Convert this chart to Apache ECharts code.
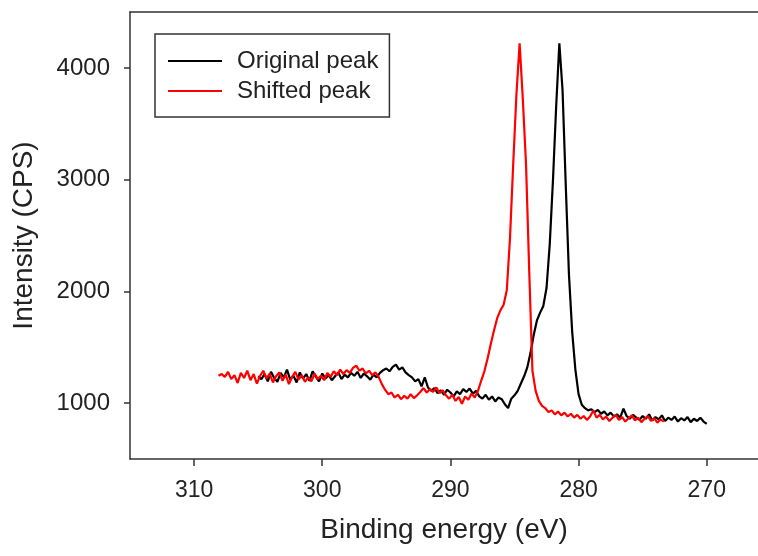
<!DOCTYPE html>
<html>
<head>
<meta charset="utf-8">
<script src="https://cdn.jsdelivr.net/npm/echarts@6/dist/echarts.min.js"></script>
<style>
  html, body { margin: 0; padding: 0; background: #fff; }
  #xps { width: 758px; height: 556px; }
</style>
</head>
<body>
<div id="xps"></div>
<script>
// binding energy grid: both scans are sampled every 0.25 eV, going down in energy
var energyStep = 0.25;
var originalStart = 305.0;
var shiftedStart = 308.1;

// Original peak, 305.0 -> 270.0 eV
var originalCps = [
  1240, 1215, 1260, 1195, 1280, 1225, 1190, 1270, 1230, 1300,
  1210, 1245, 1185, 1275, 1220, 1260, 1200, 1285, 1235, 1195,
  1265, 1220, 1250, 1205, 1240, 1275, 1215, 1255, 1230, 1270,
  1245, 1280, 1225, 1265, 1240, 1210, 1255, 1230, 1270, 1295,
  1310, 1285, 1325, 1345, 1300, 1320, 1275, 1250, 1230, 1195,
  1215, 1150, 1230, 1140, 1110, 1135, 1090, 1115, 1075, 1120,
  1095, 1060, 1105, 1080, 1125, 1100, 1130, 1085, 1110, 1060,
  1040, 1075, 1030, 1060, 1015, 1050, 1035, 990, 955, 1040,
  1070, 1110, 1175, 1240, 1320, 1450, 1610, 1740, 1810, 1870,
  2030, 2420, 2990, 3650, 4220, 3800, 2950, 2150, 1640, 1300,
  1080, 985, 955, 935, 945, 920, 940, 905, 925, 890,
  915, 880, 900, 870, 950, 885, 860, 895, 870, 850,
  885, 860, 900, 845, 875, 855, 890, 840, 870, 850,
  880, 835, 865, 845, 875, 830, 860, 840, 870, 835,
  815
];

// Shifted peak, 308.1 -> 273.35 eV
var shiftedCps = [
  1245, 1260, 1235, 1280, 1215, 1250, 1180, 1270, 1225, 1290,
  1205, 1260, 1175, 1245, 1290, 1220, 1265, 1185, 1240, 1275,
  1200, 1255, 1170, 1235, 1280, 1210, 1250, 1190, 1230, 1195,
  1265, 1215, 1245, 1205, 1270, 1235, 1285, 1250, 1300, 1260,
  1295, 1270, 1315, 1335, 1290, 1310, 1265, 1290, 1250, 1275,
  1235, 1170, 1120, 1080, 1095, 1050, 1075, 1035, 1065, 1040,
  1080, 1045, 1070, 1100, 1135, 1095, 1125, 1100, 1140, 1090,
  1115, 1070, 1040, 1075, 1020, 1055, 995, 1060, 1030, 1085,
  1050, 1110, 1200, 1285, 1400, 1530, 1650, 1760, 1830, 1880,
  2010, 2480, 3140, 3760, 4220, 3720, 3140, 2180, 1290, 1110,
  1020, 975, 955, 920, 935, 900, 925, 890, 915, 880,
  905, 870, 895, 860, 885, 850, 880, 935, 870, 895,
  855, 880, 840, 870, 895, 850, 875, 835, 865, 890,
  845, 870, 830, 860, 885, 840, 865, 825, 855, 835
];

var xTicks = [310, 300, 290, 280, 270];
var yTicks = [1000, 2000, 3000, 4000];

function toPairs(start, values) {
  return values.map(function (v, i) {
    return [+(start - i * energyStep).toFixed(2), v];
  });
}

var fontName = 'Liberation Sans, Arial, sans-serif';
var frame = { color: '#333', width: 1.5 };
var xps = echarts.init(document.getElementById('xps'));
var xpsOption = {
  animation: false,
  backgroundColor: '#fff',
  textStyle: { fontFamily: fontName, color: '#222' },
  grid: {
    left: 130,
    top: 12,
    right: 0,
    bottom: 97
  },
  legend: {
    orient: 'vertical',
    left: 155,
    top: 34,
    padding: [15, 11, 14, 13],
    itemGap: 6,
    icon: 'rect',
    itemWidth: 54,
    itemHeight: 2,
    borderColor: '#333',
    borderWidth: 1.5,
    backgroundColor: '#fff',
    textStyle: {
      fontFamily: fontName,
      fontSize: 24,
      lineHeight: 24,
      color: '#222',
      padding: [0, 0, 0, 10]
    },
    data: ['Original peak', 'Shifted peak']
  },
  xAxis: [
    {
      type: 'value',
      inverse: true,
      min: 266,
      max: 315,
      name: 'Binding energy (eV)',
      nameLocation: 'middle',
      nameGap: 57,
      nameTextStyle: { fontFamily: fontName, fontSize: 28, color: '#222' },
      axisLine: { lineStyle: frame },
      axisTick: {
        customValues: xTicks,
        length: 7,
        lineStyle: frame
      },
      axisLabel: {
        customValues: xTicks,
        margin: 20,
        fontFamily: fontName,
        fontSize: 23,
        color: '#222',
        formatter: function (v) { return String(v); }
      },
      splitLine: { show: false }
    },
    {
      // top edge of the frame only
      type: 'value',
      position: 'top',
      inverse: true,
      min: 266,
      max: 315,
      axisLine: { show: true, lineStyle: frame },
      axisTick: { show: false },
      axisLabel: { show: false },
      splitLine: { show: false }
    }
  ],
  yAxis: {
    type: 'value',
    min: 500,
    max: 4500,
    name: 'Intensity (CPS)',
    nameLocation: 'middle',
    nameGap: 92,
    nameTextStyle: { fontFamily: fontName, fontSize: 28, color: '#222' },
    axisLine: { show: true, lineStyle: frame },
    axisTick: {
      show: true,
      customValues: yTicks,
      length: 6,
      lineStyle: frame
    },
    axisLabel: {
      customValues: yTicks,
      margin: 20,
      fontFamily: fontName,
      fontSize: 24,
      color: '#222',
      formatter: function (v) { return String(v); }
    },
    splitLine: { show: false }
  },
  series: [
    {
      name: 'Original peak',
      type: 'line',
      symbol: 'none',
      color: '#000',
      lineStyle: { color: '#000', width: 2.2 },
      data: toPairs(originalStart, originalCps)
    },
    {
      name: 'Shifted peak',
      type: 'line',
      symbol: 'none',
      color: '#ff0000',
      lineStyle: { color: '#ff0000', width: 2.2 },
      data: toPairs(shiftedStart, shiftedCps)
    }
  ]
};
xps.setOption(xpsOption);
window.addEventListener('resize', function () {
  xps.resize();
});
</script>
</body>
</html>
